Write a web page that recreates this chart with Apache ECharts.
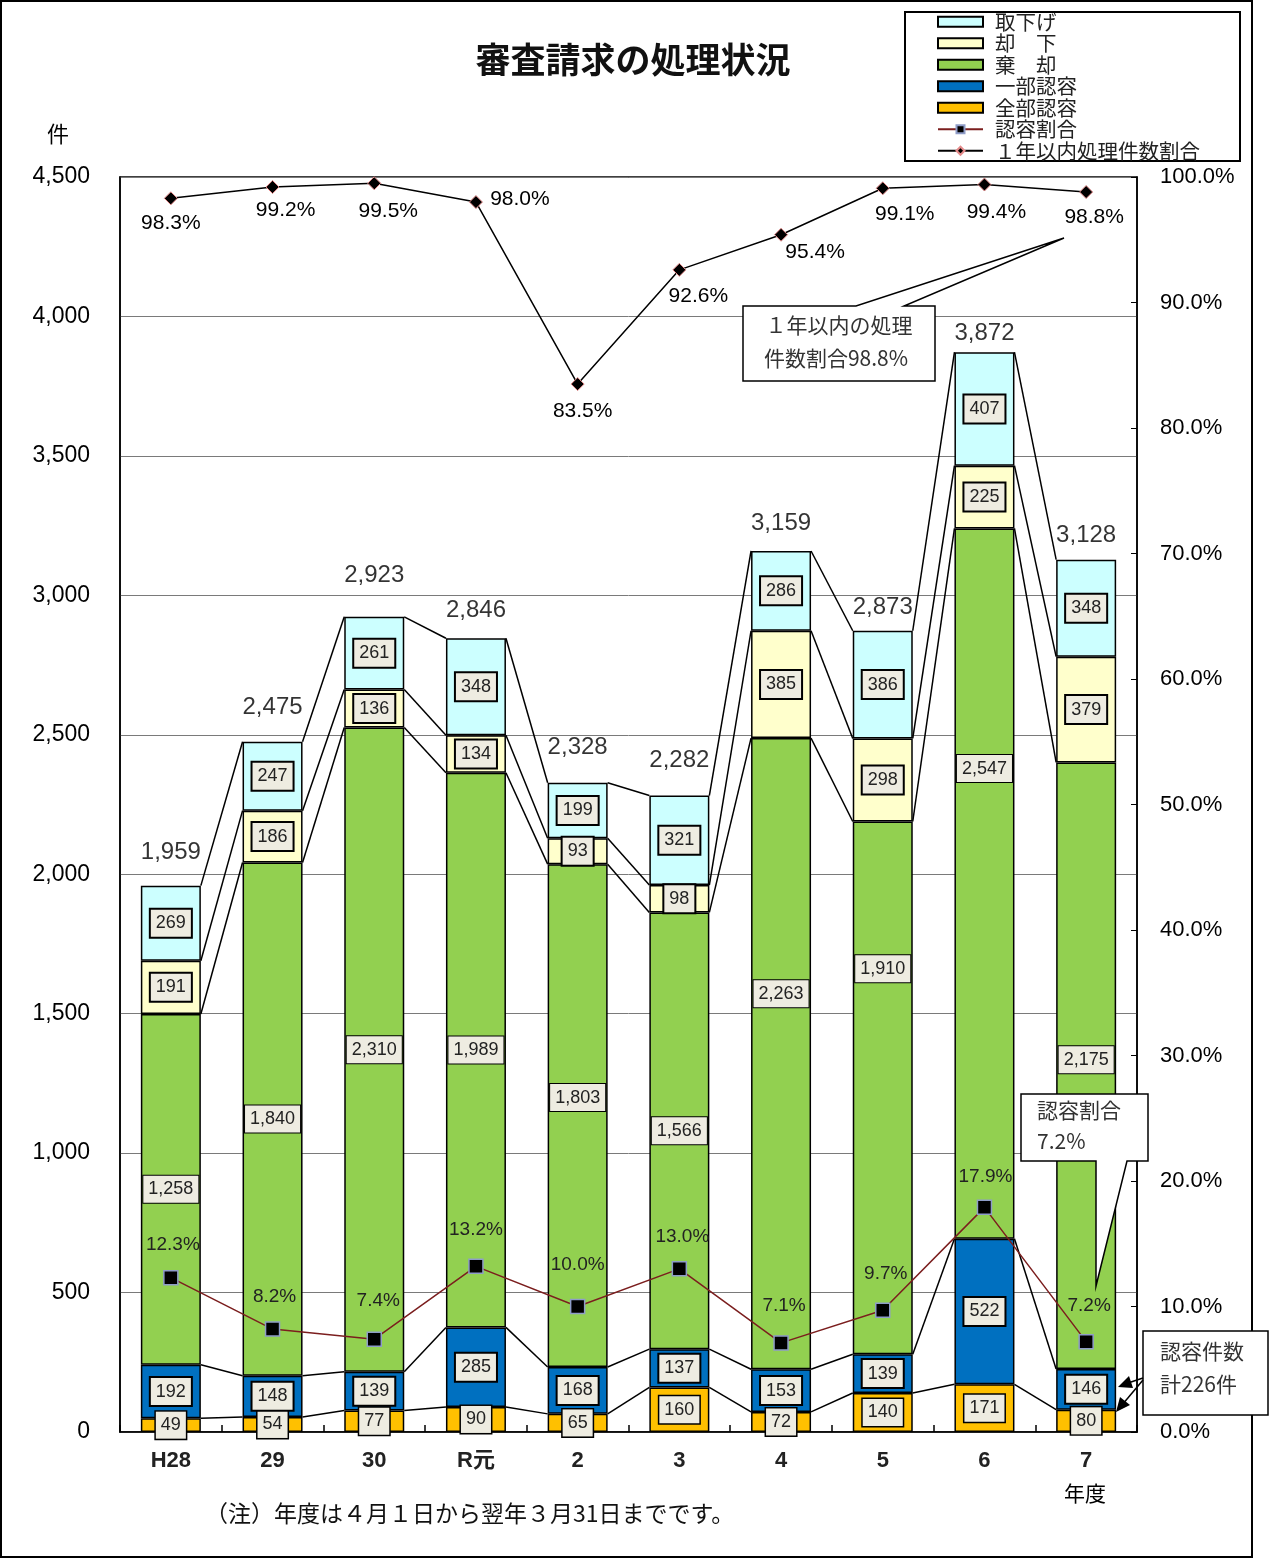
<!DOCTYPE html>
<html><head><meta charset="utf-8">
<script src="https://cdn.jsdelivr.net/npm/echarts@6/dist/echarts.min.js"></script>
<style>html,body{margin:0;padding:0;background:#fff}#c{width:1269px;height:1559px}</style>
</head><body><div id="c"></div>
<script>
const categories = ['H28','29','30','R元','2','3','4','5','6','7'];
const zenbuNinyo = [49,54,77,90,65,160,72,140,171,80];
const ichibuNinyo = [192,148,139,285,168,137,153,139,522,146];
const kikyaku = [1258,1840,2310,1989,1803,1566,2263,1910,2547,2175];
const kyakka = [191,186,136,134,93,98,385,298,225,379];
const torisage = [269,247,261,348,199,321,286,386,407,348];
const ninyoRate = [12.3,8.2,7.4,13.2,10.0,13.0,7.1,9.7,17.9,7.2];
const withinYearRate = [98.3,99.2,99.5,98.0,83.5,92.6,95.4,99.1,99.4,98.8];
const leftAxis = {min:0, max:4500, interval:500};
const rightAxis = {min:0, max:100, interval:10};

// style-only label offsets (px)
const kikyakuLabelDy = [0,0,0,0,-18,0,-60,-119,-115,-6];
const totalLabelDy = [-33,-34,-41,-28,-35,-35,-28,-23,-19,-24];
const withinLabelOff = [[0,25],[13,23],[14,28],[44,-3],[5,27],[19,26],[34,17],[22,26],[12,28],[8,25]];
const ninyoLabelOff = [[2,-33],[2,-32],[4,-38],[0,-37],[0,-42],[3,-32],[3,-37],[3,-36],[1,-31],[3,-36]];

const stacks = [zenbuNinyo, ichibuNinyo, kikyaku, kyakka, torisage];
const totals = categories.map((c,i)=>stacks.reduce((s,a)=>s+a[i],0));
const levels = [];
stacks.forEach((a,k)=>{ levels.push(categories.map((c,i)=>(k?levels[k-1][i]:0)+a[i])); });

const FONT = '"Liberation Sans", "Noto Sans CJK JP", sans-serif';
const JFONT = '"Noto Sans CJK JP", sans-serif';
const BAR_W = 60;
const fmt = v => Number(v).toLocaleString('en-US');

function boxLabel(bw){
  return {show:true, position:'inside', color:'#222', fontSize:18, fontFamily:FONT,
    backgroundColor:'#eeece1', borderColor:'#000', borderWidth:bw, padding:[5,5,4,5],
    formatter:p=>fmt(p.value)};
}
function barSeries(name, data, color, bw, dyArr){
  return {name, type:'bar', stack:'total', barWidth:BAR_W, z:2,
    itemStyle:{color, borderColor:'#000', borderWidth:1.5},
    label:boxLabel(bw),
    data: data.map((v,i)=> dyArr ? {value:v, label:{offset:[0,dyArr[i]]}} : v)};
}

const chart = echarts.init(document.getElementById('c'), null, {renderer:'canvas'});
chart.setOption({
  animation:false,
  backgroundColor:'#fff',
  title:{text:'審査請求の処理状況', left:628, top:37, textAlign:'center',
    textStyle:{fontFamily:JFONT, fontSize:35, fontWeight:'bold', color:'#111'}},
  legend:{orient:'vertical', left:937, top:11, padding:0, itemGap:0, itemWidth:45, itemHeight:10,
    textStyle:{fontFamily:JFONT, fontSize:20.5, color:'#222', lineHeight:21.5, padding:[0,0,0,7]},
    data:[{name:'取下げ',icon:'rect'},{name:'却　下',icon:'rect'},{name:'棄　却',icon:'rect'},
      {name:'一部認容',icon:'rect'},{name:'全部認容',icon:'rect'},'認容割合','１年以内処理件数割合']},
  grid:{left:120, top:177, width:1017, height:1255, show:true, borderColor:'#000', borderWidth:1.5, containLabel:false},
  xAxis:{type:'category', data:categories, boundaryGap:true,
    axisLine:{lineStyle:{color:'#000', width:1.5}},
    axisTick:{show:true, inside:true, length:7, lineStyle:{color:'#000', width:1.5}},
    axisLabel:{margin:18, fontSize:22, fontWeight:'bold', color:'#222', fontFamily:FONT}},
  yAxis:[
    {type:'value', min:leftAxis.min, max:leftAxis.max, interval:leftAxis.interval, position:'left',
      axisLine:{show:true, lineStyle:{color:'#000', width:1.5}}, axisTick:{show:false},
      splitLine:{lineStyle:{color:'#7a7a7a', width:1}},
      axisLabel:{margin:30, fontSize:23, color:'#000', fontFamily:FONT, formatter:v=>fmt(v)}},
    {type:'value', min:rightAxis.min, max:rightAxis.max, interval:rightAxis.interval, position:'right',
      axisLine:{show:true, lineStyle:{color:'#000', width:1.5}},
      axisTick:{show:true, inside:true, length:6, lineStyle:{color:'#000'}},
      splitLine:{show:false},
      axisLabel:{margin:23, fontSize:22, color:'#000', fontFamily:FONT, formatter:v=>v.toFixed(1)+'%'}}
  ],
  series:[
    barSeries('全部認容', zenbuNinyo, '#ffc000', 1.5),
    barSeries('一部認容', ichibuNinyo, '#0070c0', 2),
    barSeries('棄　却', kikyaku, '#92d050', 1, kikyakuLabelDy),
    barSeries('却　下', kyakka, '#ffffcc', 2),
    barSeries('取下げ', torisage, '#ccffff', 2),
    {type:'custom', name:'connectors', z:3, silent:true,
      data:categories.slice(0,-1).map((c,i)=>[i,0]),
      encode:{x:0,y:1},
      renderItem:(params, api)=>{
        const i = params.dataIndex;
        const half = BAR_W/2;
        return {type:'group', children: levels.map(lv=>{
          const a = api.coord([i, lv[i]]);
          const b = api.coord([i+1, lv[i+1]]);
          return {type:'line', shape:{x1:a[0]+half, y1:a[1], x2:b[0]-half, y2:b[1]},
            style:{stroke:'#000', lineWidth:1.5}};
        })};
      }},
    {type:'scatter', name:'合計', z:4, symbolSize:1, itemStyle:{color:'transparent'},
      data: totals.map((v,i)=>({value:v, label:{offset:[0,totalLabelDy[i]]}})),
      label:{show:true, position:'inside', fontSize:24, color:'#000', fontFamily:FONT, formatter:p=>fmt(p.value)}},
    {name:'認容割合', type:'line', yAxisIndex:1, z:6,
      symbol:'rect', symbolSize:14,
      lineStyle:{color:'#7b1e1e', width:1.5},
      itemStyle:{color:'#000', borderColor:'#8e9cc8', borderWidth:1.5},
      label:{show:true, position:'inside', fontSize:19, color:'#222', fontFamily:FONT, formatter:p=>p.value.toFixed(1)+'%'},
      data: ninyoRate.map((v,i)=>({value:v, label:{offset:ninyoLabelOff[i]}}))},
    {name:'１年以内処理件数割合', type:'line', yAxisIndex:1, z:6,
      symbol:'diamond', symbolSize:13,
      lineStyle:{color:'#000', width:1.5},
      itemStyle:{color:'#000', borderColor:'#e48a8a', borderWidth:1},
      label:{show:true, position:'inside', fontSize:21, color:'#000', fontFamily:FONT, formatter:p=>p.value.toFixed(1)+'%'},
      data: withinYearRate.map((v,i)=>({value:v, label:{offset:withinLabelOff[i]}}))}
  ],
  graphic:[
    {type:'rect', z:0, silent:true, shape:{x:1,y:1,width:1251,height:1556}, style:{fill:'none', stroke:'#000', lineWidth:2}},
    {type:'rect', z:0, silent:true, shape:{x:905,y:12,width:335,height:149}, style:{fill:'none', stroke:'#000', lineWidth:2}},
    {type:'text', left:47, top:123, style:{text:'件', font:'22px "Noto Sans CJK JP"', fill:'#000'}},
    {type:'text', left:1064, top:1483, style:{text:'年度', font:'21px "Noto Sans CJK JP"', fill:'#000'}},
    {type:'text', left:205, top:1502, style:{text:'（注）年度は４月１日から翌年３月31日までです。', font:'23px "Noto Sans CJK JP"', fill:'#111'}},
    // callout 1
    {type:'polygon', z:100, shape:{points:[[743,306],[856,306],[1064,238],[904,306],[935,306],[935,381],[743,381]]},
      style:{fill:'#fff', stroke:'#000', lineWidth:1.5}},
    {type:'text', z:101, x:839, y:325, style:{text:'１年以内の処理', font:'21px "Noto Sans CJK JP"', fill:'#333', align:'center', verticalAlign:'middle'}},
    {type:'text', z:101, x:836, y:358, style:{text:'件数割合98.8%', font:'21px "Noto Sans CJK JP"', fill:'#333', align:'center', verticalAlign:'middle'}},
    // callout 2
    {type:'polygon', z:100, shape:{points:[[1021,1094],[1148,1094],[1148,1161],[1127,1161],[1096,1286],[1096,1161],[1021,1161]]},
      style:{fill:'#fff', stroke:'#000', lineWidth:1.5}},
    {type:'text', z:101, x:1037, y:1110, style:{text:'認容割合', font:'21px "Noto Sans CJK JP"', fill:'#333', align:'left', verticalAlign:'middle'}},
    {type:'text', z:101, x:1037, y:1141, style:{text:'7.2%', font:'21px "Noto Sans CJK JP"', fill:'#333', align:'left', verticalAlign:'middle'}},
    // callout 3
    {type:'rect', z:100, shape:{x:1143,y:1331,width:125,height:84}, style:{fill:'#fff', stroke:'#000', lineWidth:1.5}},
    {type:'text', z:101, x:1160, y:1351, style:{text:'認容件数', font:'21px "Noto Sans CJK JP"', fill:'#333', align:'left', verticalAlign:'middle'}},
    {type:'text', z:101, x:1160, y:1384, style:{text:'計226件', font:'21px "Noto Sans CJK JP"', fill:'#333', align:'left', verticalAlign:'middle'}},
    {type:'polyline', z:101, shape:{points:[[1143,1378],[1125,1384]]}, style:{stroke:'#000', lineWidth:1.5, fill:'none'}},
    {type:'polygon', z:101, shape:{points:[[1118,1387],[1133,1388],[1129,1376]]}, style:{fill:'#000'}},
    {type:'polyline', z:101, shape:{points:[[1143,1380],[1122,1405]]}, style:{stroke:'#000', lineWidth:1.5, fill:'none'}},
    {type:'polygon', z:101, shape:{points:[[1116,1412],[1130,1405],[1120,1397]]}, style:{fill:'#000'}}
  ]
});
</script></body></html>
